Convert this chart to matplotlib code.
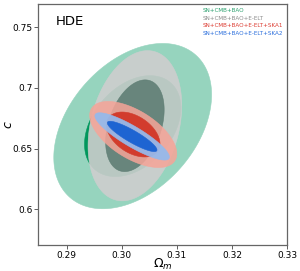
import numpy as np
import matplotlib
matplotlib.use("Agg")
import matplotlib.pyplot as plt
from matplotlib.patches import Patch

# данные: центры и параметры контуров (2 сигма и 1 сигма)
labels = ["SN+CMB+BAO", "SN+CMB+BAO+E-ELT",
          "SN+CMB+BAO+E-ELT+SKA1", "SN+CMB+BAO+E-ELT+SKA2"]
om_center = [0.3020, 0.3024, 0.3021, 0.3019]
c_center = [0.6685, 0.6688, 0.6616, 0.6600]
# контур 2 сигма
sig_om_2 = [0.00576, 0.00342, 0.00318, 0.00272]
sig_c_2 = [0.0274, 0.0249, 0.01095, 0.00784]
rho_2 = [0.38, 0.27, -0.58, -0.87]
# контур 1 сигма
sig_om_1 = [0.00576, 0.00350, 0.00320, 0.00297]
sig_c_1 = [0.0274, 0.0249, 0.0122, 0.00824]
rho_1 = [0.36, 0.35, -0.42, -0.89]

# уровни delta chi2 для 2 и 1 сигма (2 параметра)
dchi2_2 = 6.17
dchi2_1 = 2.30

outer_colors = [("#96d4be", 1.0), ("#cecece", 0.9), ("#f7a498", 0.85), ("#96b9eb", 0.95)]
inner_colors = [("#00975c", 1.0), ("#5a7a70", 0.85), ("#d23c2d", 1.0), ("#1e64d2", 1.0)]
text_colors = ["#2aa06e", "#8c8c8c", "#dc3c32", "#2a6edc"]

fig = plt.figure(figsize=(3.0, 2.71), dpi=100)
ax = fig.add_axes([0.128, 0.096, 0.829, 0.889])


def ellipse(x0, y0, sx, sy, r, dchi2):
    # точки контура гауссова распределения
    cov = np.array([[sx ** 2, r * sx * sy], [r * sx * sy, sy ** 2]])
    L = np.linalg.cholesky(cov)
    t = np.linspace(0, 2 * np.pi, 300)
    pts = L @ np.vstack([np.cos(t), np.sin(t)]) * np.sqrt(dchi2)
    return x0 + pts[0], y0 + pts[1]


for i in range(len(labels)):
    x, y = ellipse(om_center[i], c_center[i], sig_om_2[i], sig_c_2[i], rho_2[i], dchi2_2)
    col, a = outer_colors[i]
    ax.fill(x, y, color=col, alpha=a, lw=0.4, ec=col)
    x, y = ellipse(om_center[i], c_center[i], sig_om_1[i], sig_c_1[i], rho_1[i], dchi2_1)
    col, a = inner_colors[i]
    ax.fill(x, y, color=col, alpha=a, lw=0.4, ec=col)

ax.set_xlim(0.2849, 0.33)
ax.set_ylim(0.5706, 0.769)
ax.set_xticks([0.29, 0.30, 0.31, 0.32, 0.33])
ax.set_xticklabels(["0.29", "0.30", "0.31", "0.32", "0.33"])
ax.set_yticks([0.6, 0.65, 0.7, 0.75])
ax.set_yticklabels(["0.6", "0.65", "0.7", "0.75"])
ax.tick_params(labelsize=6.5, length=3, width=0.6, color="#444444", pad=1.2)
for s in ax.spines.values():
    s.set_color("#666666")
    s.set_linewidth(0.9)

ax.set_xlabel(r"$\Omega_m$", fontsize=9)
ax.set_ylabel(r"$c$", fontsize=9)
ax.xaxis.set_label_coords(0.5, -0.05)
ax.yaxis.set_label_coords(-0.095, 0.5)

ax.text(0.07, 0.955, "HDE", transform=ax.transAxes, fontsize=9.5, va="top")

handles = [Patch(color="none") for _ in labels]
ax.legend(handles, labels, loc="upper right", frameon=False, fontsize=4.1,
          handlelength=0, handletextpad=0, labelspacing=0.45,
          borderaxespad=0.35, labelcolor=text_colors)

fig.savefig("out.png", dpi=100)
